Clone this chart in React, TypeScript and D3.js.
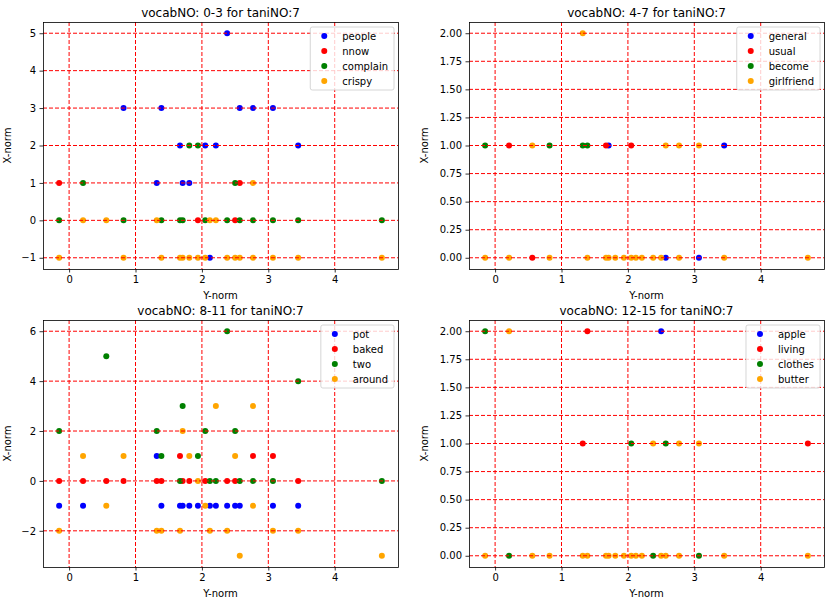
import React, { useEffect, useRef } from 'react';
import * as d3 from 'd3';

type Pt = [number, number];

const colors = ['#0000ff', '#ff0000', '#008000', '#ffa500'];

// vocabNO 0-3
const people: Pt[] = [[0.82, 3], [1.39, 3], [2.57, 3], [2.77, 3], [3.07, 3], [1.67, 2], [2.05, 2], [2.21, 2], [3.45, 2], [1.32, 1], [1.71, 1], [1.81, 1], [2.38, 5], [2.12, -1]];
const nnow: Pt[] = [[-0.15, 1], [1.94, 0], [2.5, 0], [2.57, 1]];
const complain: Pt[] = [[1.81, 2], [1.94, 2], [0.21, 1], [2.5, 1], [-0.15, 0], [0.82, 0], [1.39, 0], [1.67, 0], [1.71, 0], [2.05, 0], [2.38, 0], [2.57, 0], [2.77, 0], [3.07, 0], [3.45, 0], [4.71, 0]];
const crispy: Pt[] = [[2.77, 1], [0.21, 0], [0.56, 0], [1.32, 0], [2.12, 0], [2.21, 0], [-0.15, -1], [0.82, -1], [1.39, -1], [1.67, -1], [1.71, -1], [1.81, -1], [1.94, -1], [2.05, -1], [2.38, -1], [2.5, -1], [2.57, -1], [2.77, -1], [3.07, -1], [3.45, -1], [4.71, -1]];

// vocabNO 4-7
const general: Pt[] = [[1.71, 1], [3.45, 1], [2.57, 0], [3.07, 0]];
const usual: Pt[] = [[0.21, 1], [1.67, 1], [2.05, 1], [0.56, 0]];
const become: Pt[] = [[-0.15, 1], [0.82, 1], [1.32, 1], [1.39, 1]];
const girlfriend: Pt[] = [[1.32, 2], [0.56, 1], [2.57, 1], [2.77, 1], [3.07, 1], [-0.15, 0], [0.21, 0], [0.82, 0], [1.39, 0], [1.67, 0], [1.71, 0], [1.81, 0], [1.94, 0], [2.05, 0], [2.12, 0], [2.21, 0], [2.38, 0], [2.5, 0], [2.77, 0], [3.45, 0], [4.71, 0]];

// vocabNO 8-11
const pot: Pt[] = [[1.32, 1], [-0.15, -1], [0.21, -1], [1.39, -1], [1.67, -1], [1.71, -1], [1.81, -1], [1.94, -1], [2.12, -1], [2.21, -1], [2.38, -1], [2.5, -1], [2.57, -1], [3.07, -1], [3.45, -1]];
const baked: Pt[] = [[1.67, 1], [2.77, 1], [3.07, 1], [-0.15, 0], [0.21, 0], [0.56, 0], [0.82, 0], [1.32, 0], [1.39, 0], [1.71, 0], [1.81, 0], [2.05, 0], [2.38, 0], [2.5, 0], [3.45, 0]];
const two: Pt[] = [[2.38, 6], [0.56, 5], [3.45, 4], [1.71, 3], [-0.15, 2], [1.32, 2], [2.05, 2], [2.5, 2], [1.39, 1], [1.94, 1], [1.67, 0], [2.12, 0], [2.21, 0], [2.57, 0], [2.77, 0], [3.07, 0], [4.71, 0]];
const around: Pt[] = [[2.21, 3], [2.77, 3], [1.71, 2], [0.21, 1], [0.82, 1], [1.81, 1], [2.5, 1], [1.94, 0], [0.56, -1], [2.05, -1], [2.77, -1], [-0.15, -2], [1.32, -2], [1.39, -2], [1.67, -2], [2.12, -2], [2.38, -2], [3.07, -2], [3.45, -2], [2.57, -3], [4.71, -3]];

// vocabNO 12-15
const apple: Pt[] = [[2.5, 2]];
const living: Pt[] = [[1.39, 2], [1.32, 1], [4.71, 1]];
const clothes: Pt[] = [[-0.15, 2], [2.05, 1], [2.57, 1], [0.21, 0], [2.38, 0], [3.07, 0]];
const butter: Pt[] = [[0.21, 2], [2.38, 1], [2.77, 1], [3.07, 1], [-0.15, 0], [0.56, 0], [0.82, 0], [1.32, 0], [1.39, 0], [1.67, 0], [1.71, 0], [1.81, 0], [1.94, 0], [2.05, 0], [2.12, 0], [2.21, 0], [2.5, 0], [2.57, 0], [2.77, 0], [3.45, 0], [4.71, 0]];

const xTicks = [0, 1, 2, 3, 4];
const yTicksInt1 = [-1, 0, 1, 2, 3, 4, 5];
const yTicksFrac = [0, 0.25, 0.5, 0.75, 1, 1.25, 1.5, 1.75, 2];
const yTicksInt3 = [-2, 0, 2, 4, 6];

const intFmt = (d: number) => String(d).replace('-', '\u2212');

const panels = [
  { title: 'vocabNO: 0-3 for taniNO:7', names: ['people', 'nnow', 'complain', 'crispy'], series: [people, nnow, complain, crispy], yTicks: yTicksInt1, fmt: intFmt, left: 43, top: 22 },
  { title: 'vocabNO: 4-7 for taniNO:7', names: ['general', 'usual', 'become', 'girlfriend'], series: [general, usual, become, girlfriend], yTicks: yTicksFrac, fmt: d3.format('.2f'), left: 469, top: 22 },
  { title: 'vocabNO: 8-11 for taniNO:7', names: ['pot', 'baked', 'two', 'around'], series: [pot, baked, two, around], yTicks: yTicksInt3, fmt: intFmt, left: 43, top: 320 },
  { title: 'vocabNO: 12-15 for taniNO:7', names: ['apple', 'living', 'clothes', 'butter'], series: [apple, living, clothes, butter], yTicks: yTicksFrac, fmt: d3.format('.2f'), left: 469, top: 320 },
];

const App: React.FC = () => {
  const svgRef = useRef<SVGSVGElement>(null);

  useEffect(() => {
    if (!svgRef.current) return;
    document.body.style.margin = '0';
    const root = d3.select(svgRef.current);
    root.selectAll('*').remove();

    const w = 355;
    const h = 247;
    const font = 'DejaVu Sans, sans-serif';

    panels.forEach(p => {
      const all = p.series.flat();
      const xe = d3.extent(all, d => d[0]) as [number, number];
      const ye = d3.extent(all, d => d[1]) as [number, number];
      const xm = (xe[1] - xe[0]) * 0.05;
      const ym = (ye[1] - ye[0]) * 0.05;
      const x = d3.scaleLinear().domain([xe[0] - xm, xe[1] + xm]).range([0, w]);
      const y = d3.scaleLinear().domain([ye[0] - ym, ye[1] + ym]).range([h, 0]);

      const g = root.append('g').attr('transform', `translate(${p.left},${p.top})`);

      // points
      p.series.forEach((s, i) => {
        g.selectAll(null)
          .data(s)
          .enter()
          .append('circle')
          .attr('cx', d => x(d[0]))
          .attr('cy', d => y(d[1]))
          .attr('r', 3)
          .attr('fill', colors[i]);
      });

      // grid drawn above the points
      const grid = g.append('g').attr('stroke', '#ff0000').attr('stroke-dasharray', '4,2').attr('stroke-width', 1);
      xTicks.forEach(t => {
        grid.append('line').attr('x1', x(t)).attr('x2', x(t)).attr('y1', 0).attr('y2', h);
      });
      p.yTicks.forEach(t => {
        grid.append('line').attr('x1', 0).attr('x2', w).attr('y1', y(t)).attr('y2', y(t));
      });

      // axes
      const xa = g.append('g').attr('transform', `translate(0,${h})`).call(d3.axisBottom(x).tickValues(xTicks).tickSize(3.5).tickPadding(3.5).tickFormat(d => String(d)));
      const ya = g.append('g').call(d3.axisLeft(y).tickValues(p.yTicks).tickSize(3.5).tickPadding(3.5).tickFormat(d => p.fmt(d as number)));
      [xa, ya].forEach(a => {
        a.select('.domain').remove();
        a.selectAll('text').attr('font-family', font).attr('font-size', 10).attr('fill', '#000');
        a.selectAll('line').attr('stroke', '#000').attr('stroke-width', 0.8);
      });

      g.append('rect').attr('x', 0.5).attr('y', 0.5).attr('width', w).attr('height', h).attr('fill', 'none').attr('stroke', '#000').attr('stroke-width', 0.8);

      g.append('text').attr('x', w / 2).attr('y', -5).attr('text-anchor', 'middle').attr('font-family', font).attr('font-size', 12).text(p.title);
      g.append('text').attr('x', w / 2).attr('y', h + 30).attr('text-anchor', 'middle').attr('font-family', font).attr('font-size', 10).text('Y-norm');
      const ylx = p.yTicks === yTicksFrac ? -41 : -32;
      g.append('text').attr('transform', `translate(${ylx},${h / 2}) rotate(-90)`).attr('text-anchor', 'middle').attr('font-family', font).attr('font-size', 10).text('X-norm');

      // legend
      const lg = g.append('g');
      const box = lg.append('rect').attr('height', 63).attr('rx', 2).attr('fill', 'rgba(255,255,255,0.8)').attr('stroke', '#cccccc').attr('stroke-width', 0.8);
      let tw = 0;
      p.names.forEach((n, i) => {
        lg.append('circle').attr('cx', 14).attr('cy', 9 + i * 15).attr('r', 3).attr('fill', colors[i]);
        const t = lg.append('text').attr('x', 32).attr('y', 9 + i * 15).attr('dy', '0.35em').attr('font-family', font).attr('font-size', 10).text(n);
        tw = Math.max(tw, (t.node() as SVGTextElement).getComputedTextLength());
      });
      const lw = 32 + tw + 6;
      box.attr('width', lw);
      lg.attr('transform', `translate(${w - 4 - lw},5)`);
    });
  }, []);

  return <svg ref={svgRef} width={831} height={604} style={{ display: 'block', background: '#fff' }} />;
};

export default App;
